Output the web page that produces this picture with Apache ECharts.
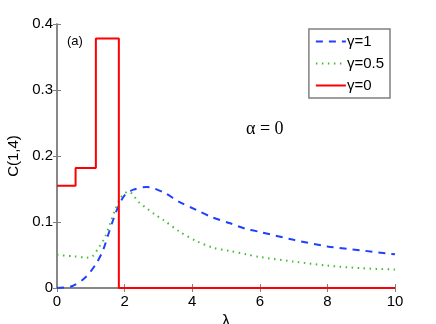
<!DOCTYPE html>
<html>
<head>
<meta charset="utf-8">
<script src="https://cdn.jsdelivr.net/npm/echarts@6/dist/echarts.min.js"></script>
<style>
  html, body { margin: 0; padding: 0; background: #fff; }
  #chart { width: 436px; height: 324px; }
</style>
</head>
<body>
<div id="chart"></div>
<script>
// values
const xTicks = [0, 2, 4, 6, 8, 10]
const yTicks = [0, 0.1, 0.2, 0.3, 0.4]

const lambda1 = [0, 0.46, 0.86, 1.16, 1.36, 1.51, 1.66, 1.81, 2.01, 2.26, 2.66, 3.15, 3.6, 4.13, 4.6, 5.12, 5.56, 6, 7, 8, 9, 10]
const gamma1 = [0, 0.003, 0.017, 0.037, 0.057, 0.08, 0.103, 0.123, 0.141, 0.149, 0.153, 0.145, 0.131, 0.118, 0.107, 0.098, 0.09, 0.085, 0.073, 0.063, 0.057, 0.051]

const lambdaHalf = [0, 0.5, 0.88, 1.05, 1.22, 1.42, 1.57, 1.72, 1.87, 2.02, 2.12, 2.42, 2.65, 2.91, 3.15, 3.64, 4.13, 4.62, 5.12, 5.61, 6, 7, 8, 9, 10]
const gammaHalf = [0.05, 0.048, 0.046, 0.048, 0.06, 0.077, 0.098, 0.118, 0.136, 0.144, 0.146, 0.13, 0.121, 0.111, 0.103, 0.085, 0.071, 0.061, 0.056, 0.051, 0.047, 0.04, 0.034, 0.03, 0.028]

const lambda0 = [0, 0.55, 0.55, 1.15, 1.15, 1.83, 1.83, 10]
const gamma0 = [0.155, 0.155, 0.182, 0.182, 0.378, 0.378, 0, 0]

const pairs = (xs, ys) => xs.map((x, i) => [x, ys[i]])

const font = 'Liberation Sans, Arial, Helvetica, sans-serif'
const frame = '#808080'

const chart = echarts.init(document.getElementById('chart'))
chart.setOption({
  animation: false,
  textStyle: { fontFamily: font },
  grid: { left: 57, right: 41, top: 24, bottom: 36, outerBoundsMode: 'none', containLabel: false },
  xAxis: [
    {
      type: 'value',
      min: xTicks[0],
      max: xTicks[xTicks.length - 1],
      interval: 2,
      name: 'λ',
      nameLocation: 'middle',
      nameGap: 18,
      nameTextStyle: { fontSize: 16, color: '#000', fontFamily: font },
      axisLine: { lineStyle: { color: frame, width: 1.5 } },
      axisTick: { inside: true, length: 4, lineStyle: { color: frame } },
      axisLabel: { fontSize: 15, color: '#000', margin: 6 },
      splitLine: { show: false },
    },
    {
      type: 'value',
      position: 'top',
      min: 0,
      max: 10,
      interval: 2,
      axisLine: { lineStyle: { color: frame, width: 1.5 } },
      axisTick: { inside: true, length: 4, lineStyle: { color: frame } },
      axisLabel: { show: false },
      splitLine: { show: false },
    },
  ],
  yAxis: [
    {
      type: 'value',
      min: yTicks[0],
      max: yTicks[yTicks.length - 1],
      interval: 0.1,
      name: 'C(1,4)',
      nameLocation: 'middle',
      nameGap: 31,
      nameTextStyle: { fontSize: 15, color: '#000', fontFamily: font },
      axisLine: { show: true, lineStyle: { color: frame, width: 1.5 } },
      axisTick: { show: true, inside: true, length: 4, lineStyle: { color: frame } },
      axisLabel: { fontSize: 15, color: '#000', margin: 4, formatter: v => String(Math.round(v * 10) / 10) },
      splitLine: { show: false },
    },
    {
      type: 'value',
      position: 'right',
      min: 0,
      max: 0.4,
      interval: 0.1,
      axisLine: { show: true, lineStyle: { color: frame, width: 1.5 } },
      axisTick: { show: true, inside: true, length: 4, lineStyle: { color: frame } },
      axisLabel: { show: false },
      splitLine: { show: false },
    },
  ],
  legend: {
    orient: 'vertical',
    right: 46,
    top: 29,
    width: 84,
    itemWidth: 30,
    itemHeight: 10,
    itemGap: 7,
    padding: [5, 6, 5, 6],
    backgroundColor: '#fff',
    borderColor: frame,
    borderWidth: 1.5,
    borderRadius: 0,
    itemStyle: { opacity: 0 },
    textStyle: { fontSize: 15, color: '#000', fontFamily: font, padding: [0, 0, 0, -4] },
    data: ['γ=1', 'γ=0.5', 'γ=0'],
  },
  graphic: [
    { type: 'text', left: 67, top: 35, style: { text: '(a)', fontSize: 13, fill: '#000', fontFamily: font } },
    { type: 'text', left: 246, top: 120, style: { text: 'α = 0', fontSize: 18, fill: '#000', fontFamily: 'Liberation Serif, Times New Roman, serif' } },
  ],
  series: [
    {
      name: 'γ=1',
      type: 'line',
      smooth: 0.3,
      symbol: 'none',
      data: pairs(lambda1, gamma1),
      lineStyle: { color: '#2040ff', width: 2, type: [7, 6] },
      itemStyle: { color: '#2040ff' },
    },
    {
      name: 'γ=0.5',
      type: 'line',
      smooth: 0.3,
      symbol: 'none',
      data: pairs(lambdaHalf, gammaHalf),
      lineStyle: { color: '#44bb33', width: 2, type: [1.5, 4.5] },
      itemStyle: { color: '#44bb33' },
    },
    {
      name: 'γ=0',
      type: 'line',
      symbol: 'none',
      data: pairs(lambda0, gamma0),
      lineStyle: { color: '#ff0000', width: 2 },
      itemStyle: { color: '#ff0000' },
      z: 3,
    },
  ],
})
</script>
</body>
</html>
